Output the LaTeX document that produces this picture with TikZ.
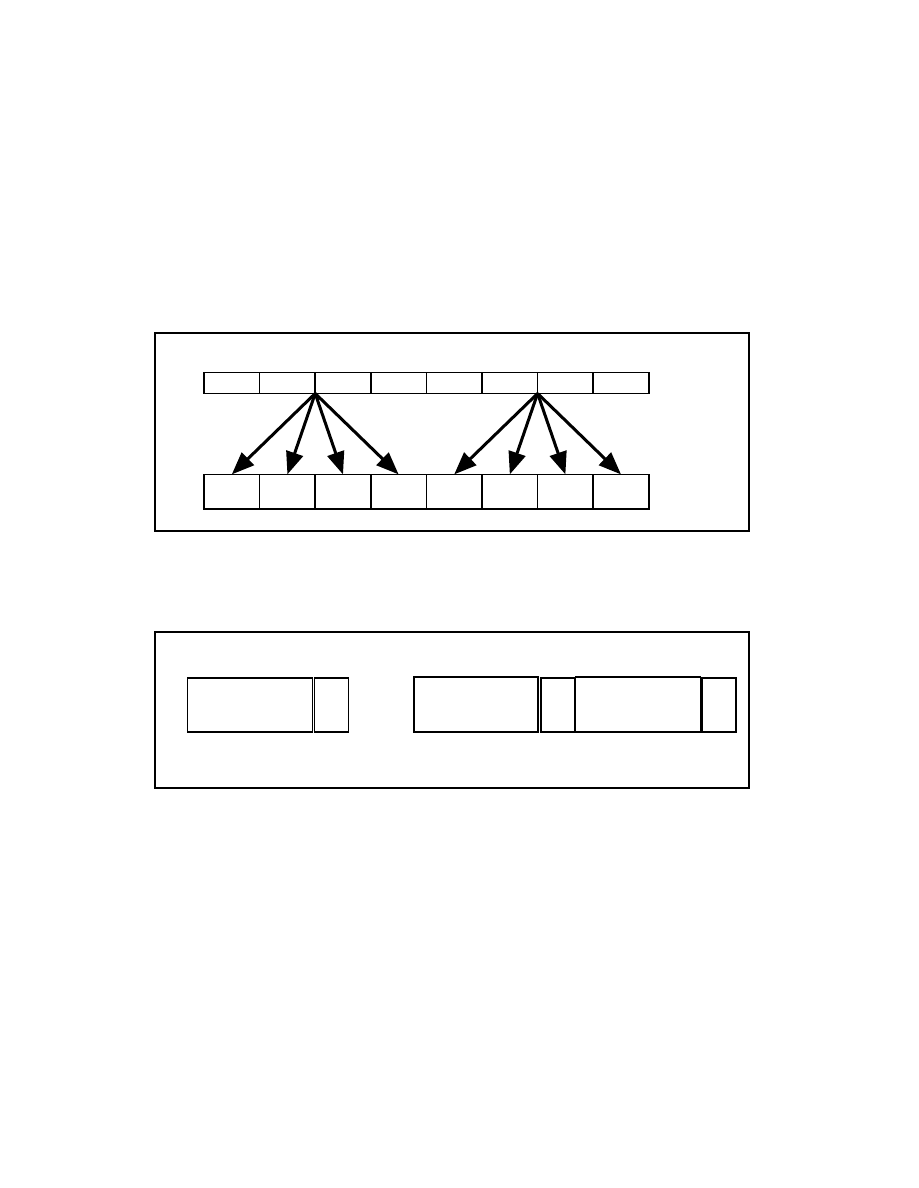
\documentclass[tikz,border=0pt]{standalone}
\usetikzlibrary{arrows.meta}
\def\px{0.6667pt}
\tikzset{
  cell/.style={draw,line width=1pt,inner sep=0pt,outer sep=0pt,minimum width=55.6*\px,minimum height=21*\px},
  slot/.style={cell,minimum height=34.6*\px},
  blk/.style={draw,line width=1.3pt,inner sep=0pt,outer sep=0pt,minimum height=54*\px},
  fan/.style={line width=2pt,-{Triangle[length=15pt,width=11.5pt]}},
}
\begin{document}
\begin{tikzpicture}[x=\px,y=-\px]
	\useasboundingbox (0,0) rectangle (918,1188);
	% upper panel
	\draw[line width=1pt] (155,333) rectangle (749,531);
	\foreach \i in {1,...,8} {
		\node[cell] (t\i) at ({204+55.6*(\i-.5)},383) {};
		\node[slot] (b\i) at ({204+55.6*(\i-.5)},491.7) {};
	}
	\foreach \i in {1,...,4} \draw[fan] (t3.south west) -- (b\i.north);
	\foreach \i in {5,...,8} \draw[fan] (t7.south west) -- (b\i.north);
	% lower panel
	\draw[line width=1pt] (155,632) rectangle (749,788);
	\node[blk,minimum width=125*\px] (hA) at (250,705.3) {};
	\node[blk,minimum width=34*\px] (tA) at (331.5,705.3) {};
	\node[blk,minimum width=124.5*\px,minimum height=54.4*\px] (hB) at (476,704.5) {};
	\node[blk,minimum width=33.5*\px] (tB) at (558,705.3) {};
	\node[blk,minimum width=125*\px,minimum height=54.4*\px] (hC) at (638,704.5) {};
	\node[blk,minimum width=34*\px] (tC) at (718.7,705.3) {};
\end{tikzpicture}
\end{document}
